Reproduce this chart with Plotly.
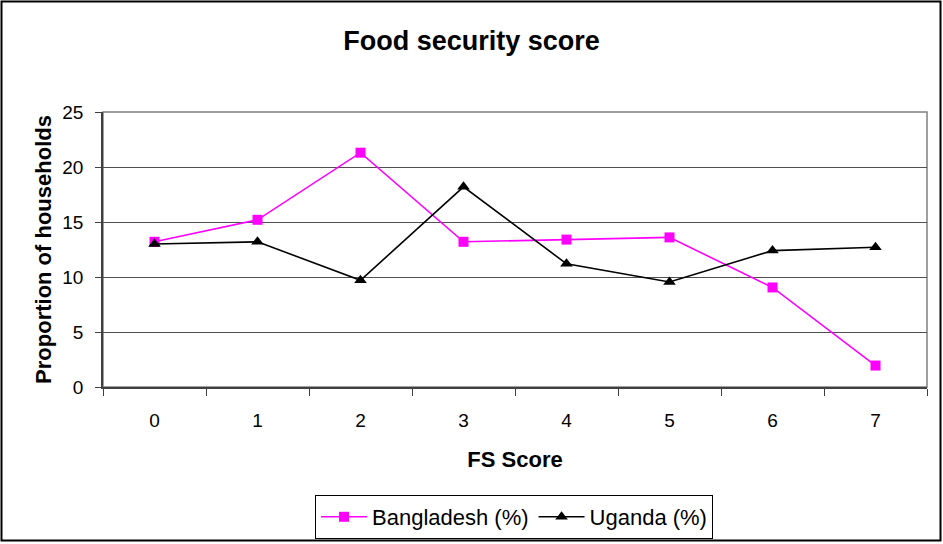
import plotly.graph_objects as go

fs_score = [0, 1, 2, 3, 4, 5, 6, 7]
tick_labels = ["0", "1", "2", "3", "4", "5", "6", "7"]
bangladesh = [13.2, 15.2, 21.3, 13.2, 13.4, 13.6, 9.05, 1.95]
uganda = [13.0, 13.2, 9.7, 18.2, 11.2, 9.55, 12.4, 12.7]

W, H = 943, 544
ml, mr, mt, mb = 103, 16, 112, 157
pw, ph = W - ml - mr, H - mt - mb

fig = go.Figure()
fig.add_trace(go.Scatter(
    x=fs_score, y=bangladesh, name="Bangladesh (%)", mode="lines+markers",
    line=dict(color="#FF00FF", width=1.6),
    marker=dict(symbol="square", size=10, color="#FF00FF"),
))
fig.add_trace(go.Scatter(
    x=fs_score, y=uganda, name="Uganda (%)", mode="lines+markers",
    line=dict(color="#000000", width=1.6),
    marker=dict(symbol="triangle-up", size=11, color="#000000"),
))

font = "Liberation Sans, Arial, sans-serif"


def px_to_paper_x(px):
    return (px - ml) / pw


def px_to_paper_y(py):
    return (H - mb - py) / ph


# outer chart border
fig.add_shape(type="rect", xref="paper", yref="paper",
              x0=px_to_paper_x(1.5), x1=px_to_paper_x(940.5),
              y0=px_to_paper_y(540.5), y1=px_to_paper_y(1.5),
              line=dict(color="black", width=2), layer="below")

fig.update_layout(
    width=W, height=H,
    margin=dict(l=ml, r=mr, t=mt, b=mb),
    paper_bgcolor="white", plot_bgcolor="white",
    font=dict(family=font, size=19, color="black"),
    title=dict(text="<b>Food security score</b>", x=471.5 / W, xref="container",
               xanchor="center",
               y=1 - 41 / H, yanchor="middle",
               font=dict(size=27, family=font, color="black")),
    showlegend=True,
    legend=dict(orientation="h", x=(514 / W), xanchor="center",
                xref="container", y=1 - 517 / H, yref="container", yanchor="middle",
                bordercolor="black", borderwidth=1, bgcolor="white",
                font=dict(size=22, family=font), itemwidth=46,
                traceorder="normal"),
    xaxis=dict(
        range=[-0.5, 7.5], tickvals=fs_score, ticktext=tick_labels,
        ticks="", showgrid=False, zeroline=False,
        showline=True, linecolor="#404040", linewidth=1.5, mirror=False,
        tickfont=dict(size=19), ticklabelstandoff=15,
        minor=dict(tick0=-0.5, dtick=1, ticks="outside", ticklen=7,
                   tickcolor="#404040", tickwidth=1, showgrid=False),
        title=dict(text="<b>FS Score</b>", font=dict(size=22), standoff=22),
    ),
    yaxis=dict(
        range=[0, 25], tickvals=[0, 5, 10, 15, 20, 25],
        ticks="outside", ticklen=6, tickcolor="#404040",
        showgrid=True, gridcolor="#505050", gridwidth=1, zeroline=False,
        showline=True, linecolor="#404040", linewidth=1.5,
        tickfont=dict(size=19), ticklabelstandoff=8,
        title=dict(text="<b>Proportion of households</b>", font=dict(size=22), standoff=5),
    ),
)

# plot area border in grey
fig.add_shape(type="rect", xref="paper", yref="paper", x0=0, x1=1, y0=0, y1=1,
              line=dict(color="#808080", width=1.5), layer="below")

fig.write_html("out.html", config={"displayModeBar": False},
               post_script="document.body.style.margin='0px';")
